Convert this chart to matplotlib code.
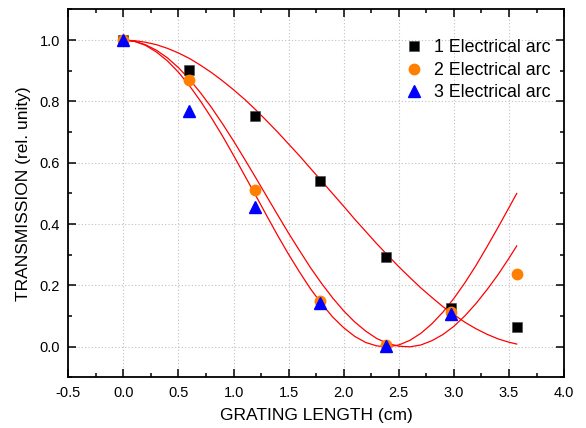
import matplotlib
matplotlib.use("Agg")
import matplotlib.pyplot as plt
from matplotlib.ticker import MultipleLocator

plt.rcParams["font.family"] = ["Liberation Sans", "DejaVu Sans"]
plt.rcParams["axes.unicode_minus"] = False

# measured points (grating length in cm, relative transmission)
length = [0.0, 0.595, 1.19, 1.785, 2.38, 2.975, 3.57]
arc1 = [1.0, 0.901, 0.752, 0.541, 0.294, 0.128, 0.063]
arc2 = [1.0, 0.870, 0.510, 0.150, 0.005, 0.112, 0.239]
length3 = [0.0, 0.595, 1.19, 1.785, 2.38, 2.975]
arc3 = [1.0, 0.769, 0.456, 0.142, 0.003, 0.108]

# fitted curves, every 0.1 cm
fit_x = [0.0, 0.1, 0.2, 0.3, 0.4, 0.5, 0.6, 0.7, 0.8, 0.9,
         1.0, 1.1, 1.2, 1.3, 1.4, 1.5, 1.6, 1.7, 1.8, 1.9,
         2.0, 2.1, 2.2, 2.3, 2.4, 2.5, 2.6, 2.7, 2.8, 2.9,
         3.0, 3.1, 3.2, 3.3, 3.4, 3.5, 3.57]
fit1 = [1.000, 0.998, 0.993, 0.985, 0.973, 0.958, 0.940, 0.918, 0.894, 0.867,
        0.838, 0.807, 0.773, 0.737, 0.700, 0.661, 0.622, 0.581, 0.540, 0.499,
        0.458, 0.416, 0.376, 0.336, 0.298, 0.261, 0.226, 0.192, 0.161, 0.131,
        0.105, 0.080, 0.059, 0.041, 0.026, 0.015, 0.009]
fit2 = [1.000, 0.996, 0.985, 0.967, 0.942, 0.910, 0.872, 0.828, 0.780, 0.727,
        0.671, 0.612, 0.552, 0.491, 0.430, 0.370, 0.313, 0.257, 0.206, 0.159,
        0.117, 0.081, 0.051, 0.027, 0.011, 0.002, 0.000, 0.006, 0.020, 0.040,
        0.067, 0.101, 0.141, 0.186, 0.235, 0.289, 0.329]
fit3 = [1.000, 0.996, 0.983, 0.961, 0.932, 0.895, 0.851, 0.801, 0.746, 0.687,
        0.624, 0.559, 0.494, 0.428, 0.363, 0.301, 0.243, 0.188, 0.140, 0.097,
        0.062, 0.034, 0.014, 0.003, 0.000, 0.006, 0.021, 0.044, 0.075, 0.113,
        0.158, 0.209, 0.265, 0.326, 0.389, 0.454, 0.500]

fig = plt.figure(figsize=(5.86, 4.28), dpi=100)
ax = fig.add_axes([0.1166, 0.118, 0.846, 0.860])

for fy in (fit1, fit2, fit3):
    ax.plot(fit_x, fy, color="red", lw=0.9, zorder=2)

ax.plot(length, arc1, ls="none", marker="s", ms=6.5, color="black",
        mec="#444444", mew=0.4, label="1 Electrical arc", zorder=3)
ax.plot(length, arc2, ls="none", marker="o", ms=7.5, color="#ff8000",
        mec="#ff8000", label="2 Electrical arc", zorder=4)
ax.plot(length3, arc3, ls="none", marker="^", ms=8.5, color="blue",
        mec="blue", label="3 Electrical arc", zorder=5)

ax.set_xlim(-0.5, 4.0)
ax.set_ylim(-0.1, 1.1)
ax.xaxis.set_major_locator(MultipleLocator(0.5))
ax.xaxis.set_minor_locator(MultipleLocator(0.25))
ax.yaxis.set_major_locator(MultipleLocator(0.2))
ax.yaxis.set_minor_locator(MultipleLocator(0.1))
ax.set_yticks([0.0, 0.2, 0.4, 0.6, 0.8, 1.0])

ax.grid(True, which="major", color="#c0c0c0", ls=(0, (1, 2)), lw=0.8)
ax.tick_params(which="both", direction="in", top=True, right=True,
               labelsize=10.5, width=1.1, pad=6)
ax.tick_params(which="major", length=5.5)
ax.tick_params(which="minor", length=3.2)
for sp in ax.spines.values():
    sp.set_linewidth(1.3)

ax.set_xlabel("GRATING LENGTH (cm)", fontsize=12.5, labelpad=6)
ax.set_ylabel("TRANSMISSION (rel. unity)", fontsize=12.5, labelpad=6)

ax.legend(loc="upper right", bbox_to_anchor=(1.005, 0.962), frameon=False,
          fontsize=12.8, handletextpad=0.55, labelspacing=0.3,
          handlelength=1.2, numpoints=1)

fig.savefig("out.png", dpi=100)
